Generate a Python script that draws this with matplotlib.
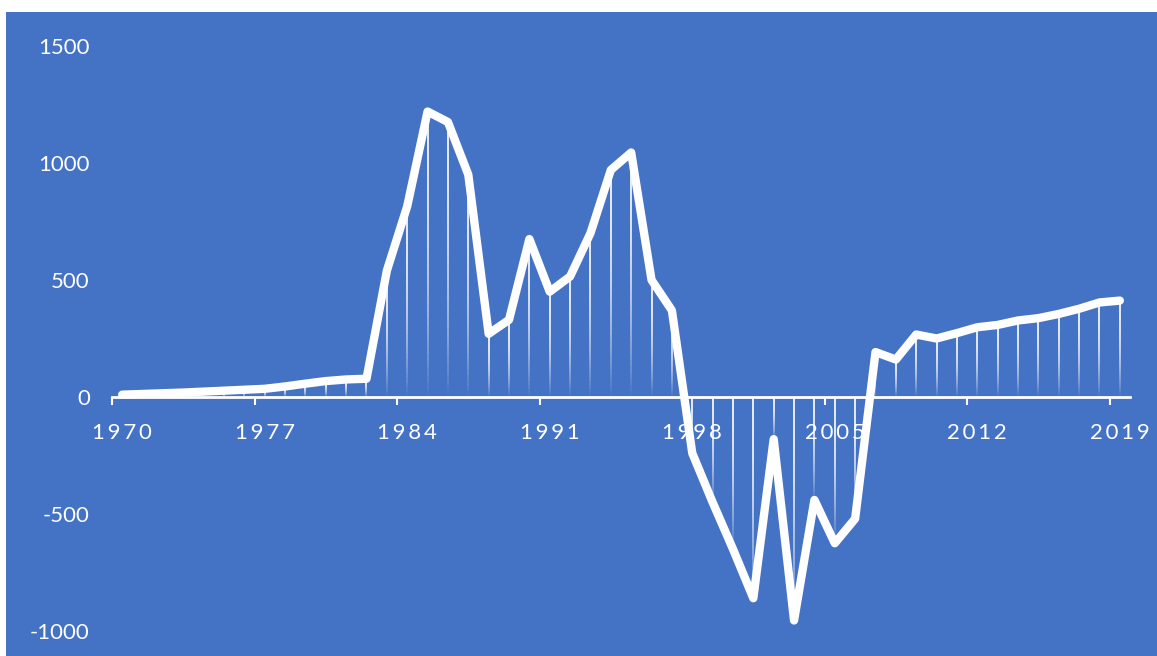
import numpy as np
import matplotlib
matplotlib.use("Agg")
import matplotlib.pyplot as plt
from matplotlib.collections import LineCollection
from matplotlib.patches import Rectangle

years = list(range(1970, 2020))
values = [10, 13, 16, 19, 23, 27, 31, 35, 45, 57,
          68, 75, 78, 540, 815, 1220, 1175, 950, 270, 330,
          675, 450, 515, 700, 970, 1045, 500, 370, -240, -450,
          -650, -860, -180, -955, -440, -625, -520, 192, 160, 267,
          250, 273, 298, 308, 327, 337, 355, 377, 404, 412]
label_years = [1970, 1977, 1984, 1991, 1998, 2005, 2012, 2019]
y_ticks = [-1000, -500, 0, 500, 1000, 1500]

BLUE = "#4472C4"
W, H = 1157, 656
plt.rcParams['font.family'] = ['Lato', 'DejaVu Sans']

fig = plt.figure(figsize=(W / 100, H / 100), dpi=100, facecolor="white")
fig.patches.append(Rectangle((6 / W, 0), 1 - 6 / W, 1 - 12 / H,
                             transform=fig.transFigure, facecolor=BLUE,
                             edgecolor="none", zorder=-10))

left_px, right_px = 112, 1130
top_px, bot_px = 46, 631
ax = fig.add_axes([left_px / W, (H - bot_px) / H,
                   (right_px - left_px) / W, (bot_px - top_px) / H])
ax.set_facecolor("none")
ax.set_xlim(years[0] - 0.5, years[-1] + 0.5)
ax.set_ylim(-1000, 1500)

# gradient drop lines
segs, cols = [], []
N = 40
for x, v in zip(years, values):
    top, bot = max(v, 0), min(v, 0)
    ys = np.linspace(top, bot, N + 1)
    for i in range(N):
        t = (i + 0.5) / N
        a = 0.95 * (1 - t ** 2.2)
        segs.append([(x, ys[i]), (x, ys[i + 1])])
        cols.append((1, 1, 1, max(a, 0)))
lc = LineCollection(segs, colors=cols, linewidths=1.3, zorder=2, capstyle='butt')
ax.add_collection(lc)

ax.plot(years, values, color="white", lw=6, zorder=4,
        solid_capstyle='round', solid_joinstyle='round', clip_on=False)

for s in ['top', 'right', 'left']:
    ax.spines[s].set_visible(False)
ax.spines['bottom'].set_position(('data', 0))
ax.spines['bottom'].set_color('white')
ax.spines['bottom'].set_linewidth(2)
ax.spines['bottom'].set_zorder(3)

ax.set_xticks(label_years)
ax.set_xticklabels(["\u2009".join(str(y)) for y in label_years])
ax.set_xticks([y - 0.5 for y in label_years], minor=True)
ax.tick_params(axis='x', which='major', length=0, pad=19, labelsize=16,
               labelcolor='white')
ax.tick_params(axis='x', which='minor', length=6, width=1.5, color='white',
               direction='out')

ax.set_yticks(y_ticks)
ax.set_yticklabels([str(v) for v in y_ticks])
ax.tick_params(axis='y', length=0, pad=16, labelsize=16, labelcolor='white')

fig.savefig("out.png", dpi=100, facecolor="white")
